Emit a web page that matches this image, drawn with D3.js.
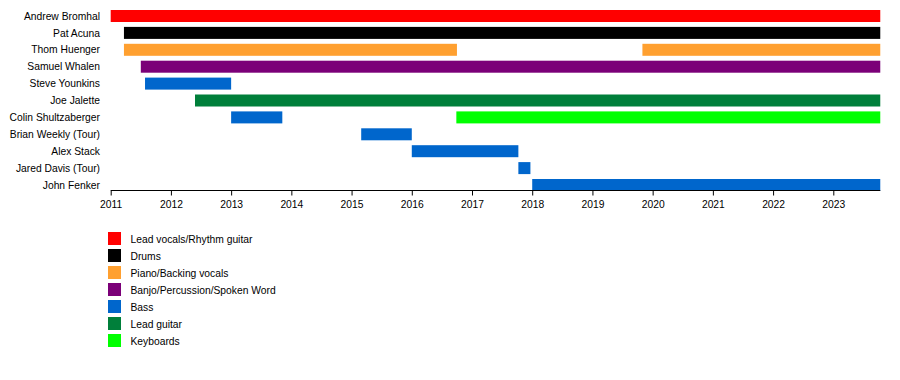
<!DOCTYPE html>
<html><head><meta charset="utf-8">
<script src="https://cdn.jsdelivr.net/npm/d3@7"></script>
<style>body{margin:0;background:#fff;} text{font-family:"Liberation Sans",Arial,sans-serif;}</style>
</head><body><svg id="c" width="900" height="380"></svg>
<script>
const members = ["Andrew Bromhal","Pat Acuna","Thom Huenger","Samuel Whalen","Steve Younkins","Joe Jalette","Colin Shultzaberger","Brian Weekly (Tour)","Alex Stack","Jared Davis (Tour)","John Fenker"];
const roles = ["Lead vocals/Rhythm guitar","Drums","Piano/Backing vocals","Banjo/Percussion/Spoken Word","Bass","Lead guitar","Keyboards"];
const roleColors = ["#ff0000","#000000","#ffa030","#7b0078","#0066cc","#007f3a","#00ff00"];
const tickYears = [2011,2012,2013,2014,2015,2016,2017,2018,2019,2020,2021,2022,2023];
// spans: member, role, start, end (decimal years)
const spanMember = ["Andrew Bromhal","Pat Acuna","Thom Huenger","Thom Huenger","Samuel Whalen","Steve Younkins","Joe Jalette","Colin Shultzaberger","Colin Shultzaberger","Brian Weekly (Tour)","Alex Stack","Jared Davis (Tour)","John Fenker"];
const spanRole = ["Lead vocals/Rhythm guitar","Drums","Piano/Backing vocals","Piano/Backing vocals","Banjo/Percussion/Spoken Word","Bass","Lead guitar","Bass","Keyboards","Bass","Bass","Bass","Bass"];
const spanStart = [2011.0,2011.22,2011.22,2019.83,2011.5,2011.57,2012.4,2013.0,2016.74,2015.16,2016.0,2017.77,2018.0];
const spanEnd = [2023.78,2023.78,2016.75,2023.78,2023.78,2013.0,2023.78,2013.85,2023.78,2016.0,2017.77,2017.97,2023.78];

const svg = d3.select("#c");
const x = d3.scaleLinear().domain([2011, 2023]).range([110.7, 833.3]);
const y = d3.scalePoint().domain(members).range([16, 185]);
const color = d3.scaleOrdinal().domain(roles).range(roleColors);
const barH = 12;
const fs = 10.3;

const spans = spanMember.map((m,i)=>({m, r:spanRole[i], s:spanStart[i], e:spanEnd[i]}));
svg.append("g").selectAll("rect").data(spans).join("rect")
  .attr("x", d=>x(d.s)).attr("width", d=>x(d.e)-x(d.s))
  .attr("y", d=>y(d.m)-barH/2).attr("height", barH)
  .attr("fill", d=>color(d.r));

svg.append("g").selectAll("text").data(members).join("text")
  .attr("x", 100).attr("y", d=>y(d)).attr("dy","0.35em")
  .attr("text-anchor","end").attr("font-size", fs).attr("fill","#000")
  .text(d=>d);

const axis = d3.axisBottom(x).tickValues(tickYears).tickFormat(d3.format("d")).tickSize(5).tickSizeOuter(0);
const ga = svg.append("g").attr("transform","translate(0,190.5)").call(axis);
ga.select(".domain").attr("d", `M${x(2011)},0H${x(2023.78)}`).attr("stroke","#000");
ga.selectAll(".tick line").attr("stroke","#000");
ga.selectAll(".tick text").attr("font-size",fs).attr("font-family","Liberation Sans, Arial, sans-serif").attr("fill","#000").attr("dy","0.9em");

const lg = svg.append("g");
const ly = d3.scalePoint().domain(roles).range([238.5, 340.5]);
lg.selectAll("rect").data(roles).join("rect")
  .attr("x",108).attr("y",d=>ly(d)-6.5).attr("width",13).attr("height",13).attr("fill",d=>color(d));
lg.selectAll("text").data(roles).join("text")
  .attr("x",130.5).attr("y",d=>ly(d)+1).attr("dy","0.35em").attr("font-size",fs).attr("fill","#000").text(d=>d);
</script></body></html>
